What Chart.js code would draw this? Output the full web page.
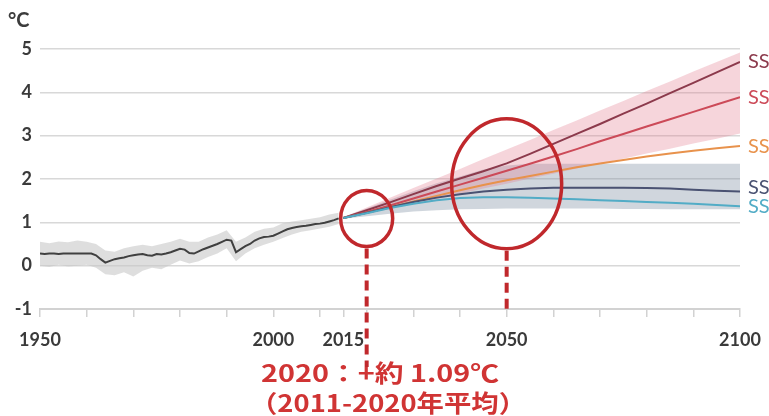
<!DOCTYPE html>
<html>
<head>
<meta charset="utf-8">
<script src="https://cdn.jsdelivr.net/npm/chart.js@4/dist/chart.umd.min.js"></script>
<style>
  html, body { margin: 0; padding: 0; background: #ffffff; }
  canvas { display: block; }
</style>
</head>
<body>
<canvas id="chart" width="769" height="416"></canvas>
<script>
// Observed global surface temperature change (°C), yearly 1950–2014
const histStart = 1950;
const histValues = [
  0.28, 0.27, 0.28, 0.28, 0.27, 0.28, 0.28, 0.28, 0.28, 0.28,
  0.28, 0.28, 0.24, 0.15, 0.07, 0.11, 0.15, 0.17, 0.19, 0.22,
  0.24, 0.26, 0.27, 0.24, 0.23, 0.27, 0.26, 0.28, 0.31, 0.35,
  0.39, 0.37, 0.29, 0.28, 0.33, 0.38, 0.42, 0.46, 0.50, 0.55,
  0.60, 0.58, 0.31, 0.38, 0.45, 0.50, 0.58, 0.63, 0.66, 0.67,
  0.69, 0.74, 0.79, 0.84, 0.87, 0.89, 0.91, 0.92, 0.94, 0.96,
  0.97, 0.99, 1.02, 1.05, 1.09
];
// Observed uncertainty range, every 2 years 1950–2014
const histBandYears = [
  1950, 1952, 1954, 1956, 1958, 1960, 1962, 1964, 1966, 1968, 1970,
  1972, 1974, 1976, 1978, 1980, 1982, 1984, 1986, 1988, 1990, 1992,
  1994, 1996, 1998, 2000, 2002, 2004, 2006, 2008, 2010, 2012, 2014
];
const histHigh = [
  0.55, 0.52, 0.56, 0.54, 0.58, 0.55, 0.50, 0.35, 0.32, 0.40, 0.45,
  0.48, 0.45, 0.50, 0.55, 0.62, 0.55, 0.55, 0.65, 0.72, 0.82, 0.55,
  0.65, 0.78, 0.85, 0.88, 0.98, 1.02, 1.05, 1.08, 1.12, 1.18, 1.22
];
const histLow = [
  0.00, -0.03, 0.02, -0.02, 0.00, 0.02, -0.05, -0.20, -0.22, -0.15, -0.25,
  -0.12, -0.05, -0.08, 0.02, 0.12, 0.05, 0.10, 0.20, 0.28, 0.40, 0.10,
  0.28, 0.40, 0.48, 0.55, 0.64, 0.72, 0.78, 0.82, 0.86, 0.90, 0.96
];

// Scenario projections, every 5 years 2015–2100
const projYears = [
  2015, 2020, 2025, 2030, 2035, 2040, 2045, 2050, 2055,
  2060, 2065, 2070, 2075, 2080, 2085, 2090, 2095, 2100
];
const ssp585 = [1.10, 1.28, 1.46, 1.65, 1.84, 2.01, 2.18, 2.36, 2.58, 2.81, 3.04, 3.27, 3.51, 3.74, 3.98, 4.22, 4.46, 4.70];
const ssp370 = [1.10, 1.24, 1.39, 1.55, 1.71, 1.87, 2.03, 2.19, 2.35, 2.52, 2.69, 2.87, 3.04, 3.21, 3.38, 3.55, 3.72, 3.89];
const ssp245 = [1.10, 1.22, 1.35, 1.48, 1.61, 1.74, 1.86, 1.97, 2.07, 2.17, 2.27, 2.36, 2.44, 2.52, 2.59, 2.65, 2.71, 2.76];
const ssp126 = [1.10, 1.22, 1.35, 1.47, 1.57, 1.65, 1.71, 1.75, 1.78, 1.80, 1.80, 1.80, 1.80, 1.79, 1.78, 1.75, 1.73, 1.71];
const ssp119 = [1.10, 1.21, 1.33, 1.43, 1.51, 1.56, 1.58, 1.58, 1.57, 1.55, 1.53, 1.51, 1.49, 1.47, 1.45, 1.43, 1.40, 1.37];

// Very likely ranges: SSP3-7.0 (red) and SSP1-2.6 (blue)
const redHigh  = [1.12, 1.34, 1.57, 1.79, 2.01, 2.23, 2.46, 2.68, 2.90, 3.13, 3.35, 3.58, 3.80, 4.03, 4.25, 4.48, 4.70, 4.92];
const redLow   = [1.08, 1.20, 1.31, 1.43, 1.54, 1.66, 1.78, 1.89, 2.01, 2.12, 2.24, 2.36, 2.47, 2.59, 2.70, 2.82, 2.93, 3.05];
const blueHigh = [1.12, 1.32, 1.52, 1.72, 1.90, 2.06, 2.22, 2.31, 2.35, 2.35, 2.35, 2.35, 2.35, 2.35, 2.35, 2.35, 2.35, 2.35];
const blueLow  = [1.08, 1.14, 1.20, 1.25, 1.28, 1.30, 1.31, 1.32, 1.32, 1.32, 1.32, 1.32, 1.31, 1.31, 1.30, 1.30, 1.30, 1.30];

const scenarioNames = ['SSP5-8.5', 'SSP3-7.0', 'SSP2-4.5', 'SSP1-2.6', 'SSP1-1.9'];
const scenarioValues = [ssp585, ssp370, ssp245, ssp126, ssp119];
const scenarioColors = ['#8c3a4c', '#cc4a58', '#e8924c', '#4a5272', '#52acc6'];

// Axis ticks
const tickYears = [1950, 1960, 1970, 1980, 1990, 2000, 2010, 2015, 2020, 2030, 2040, 2050, 2060, 2070, 2080, 2090, 2100];
const labeledYears = [1950, 2000, 2015, 2050, 2100];

// Highlighted points: year, temperature
const highlightYears = [2020, 2050];
const highlightValues = [1.09, 1.89];
const noteLines = ['2020：+約 1.09℃', '（2011-2020年平均）'];

const pts = (xs, ys) => ys.map((v, i) => ({ x: xs[i], y: v }));
const histPts = histValues.map((v, i) => ({ x: histStart + i, y: v }));

const datasets = [];
// bands (drawn underneath)
datasets.push({ data: pts(histBandYears, histLow), borderWidth: 0, pointRadius: 0, fill: false, order: 5 });
datasets.push({ data: pts(histBandYears, histHigh), borderWidth: 0, pointRadius: 0, fill: '-1', backgroundColor: 'rgba(200,200,200,0.6)', order: 5 });
datasets.push({ data: pts(projYears, blueLow), borderWidth: 0, pointRadius: 0, fill: false, order: 5 });
datasets.push({ data: pts(projYears, blueHigh), borderWidth: 0, pointRadius: 0, fill: '-1', backgroundColor: 'rgba(125,140,162,0.36)', order: 5 });
datasets.push({ data: pts(projYears, redLow), borderWidth: 0, pointRadius: 0, fill: false, order: 4 });
datasets.push({ data: pts(projYears, redHigh), borderWidth: 0, pointRadius: 0, fill: '-1', backgroundColor: 'rgba(226,125,142,0.32)', order: 4 });
// lines
datasets.push({ data: histPts, borderColor: '#404040', borderWidth: 2, pointRadius: 0, fill: false, order: 1 });
for (let i = scenarioValues.length - 1; i >= 0; i--) {
  datasets.push({ data: pts(projYears, scenarioValues[i]), borderColor: scenarioColors[i], borderWidth: 2, pointRadius: 0, fill: false, order: 1 });
}

// draw text squeezed or stretched to a given width
function fitText(ctx, text, x, y, width) {
  const w = ctx.measureText(text).width;
  ctx.save();
  ctx.translate(x, y);
  ctx.scale(width / w, 1);
  ctx.fillText(text, 0, 0);
  ctx.restore();
}

const annotate = {
  id: 'annotate',
  afterDraw(chart) {
    const ctx = chart.ctx;
    const xs = chart.scales.x, ys = chart.scales.y;

    // unit label
    ctx.save();
    ctx.fillStyle = '#3c3c3c';
    ctx.font = 'bold 20px Lato';
    ctx.textAlign = 'left';
    ctx.textBaseline = 'middle';
    ctx.fillText('°C', 8, 21);
    ctx.restore();

    // scenario names at the right end of each line
    const offsets = [0, 0, 0, -4, 0];
    ctx.save();
    ctx.font = '20px Lato';
    ctx.textAlign = 'left';
    ctx.textBaseline = 'middle';
    scenarioValues.forEach((vals, i) => {
      ctx.fillStyle = scenarioColors[i];
      ctx.fillText(scenarioNames[i], 748, ys.getPixelForValue(vals[vals.length - 1]) + offsets[i]);
    });
    ctx.restore();

    // circled highlights with dashed leaders
    const red = '#c0282c';
    const shapes = [
      { rx: 26, ry: 28, end: 367 },
      { rx: 55, ry: 65, end: 314 }
    ];
    ctx.save();
    ctx.strokeStyle = red;
    highlightYears.forEach((yr, i) => {
      const cx = xs.getPixelForValue(yr);
      const cy = ys.getPixelForValue(highlightValues[i]);
      const s = shapes[i];
      ctx.lineWidth = 3.5;
      ctx.setLineDash([]);
      ctx.beginPath();
      ctx.ellipse(cx, cy, s.rx, s.ry, 0, 0, Math.PI * 2);
      ctx.stroke();
      ctx.lineWidth = 4;
      ctx.setLineDash([10, 6]);
      ctx.beginPath();
      ctx.moveTo(cx, cy + s.ry + 2);
      ctx.lineTo(cx, s.end);
      ctx.stroke();
    });
    ctx.restore();

    // note text
    ctx.save();
    ctx.fillStyle = '#d03434';
    ctx.font = 'bold 24px "Noto Sans CJK JP"';
    ctx.textAlign = 'left';
    ctx.textBaseline = 'middle';
    fitText(ctx, noteLines[0], 261, 373, 238);
    fitText(ctx, noteLines[1], 250, 403, 276);
    ctx.restore();
  }
};

new Chart(document.getElementById('chart'), {
  type: 'line',
  data: { datasets },
  options: {
    responsive: false,
    animation: false,
    devicePixelRatio: 1,
    layout: { padding: { top: 49, right: 29, left: 0, bottom: 0 } },
    plugins: { legend: { display: false }, tooltip: { enabled: false } },
    elements: { line: { tension: 0 } },
    scales: {
      x: {
        type: 'linear',
        min: 1950,
        max: 2100,
        afterBuildTicks: (scale) => { scale.ticks = tickYears.map(v => ({ value: v })); },
        afterFit: (scale) => {
          scale.height = 107;
          scale.paddingLeft = 0;
          scale.paddingRight = 0;
        },
        ticks: {
          autoSkip: false,
          maxRotation: 0,
          padding: 12,
          color: '#3a3a3a',
          font: { family: 'Lato', size: 18, weight: 'bold' },
          callback: (v) => labeledYears.includes(v) ? String(v) : ''
        },
        grid: { drawOnChartArea: false, drawTicks: true, tickLength: 8, color: '#d2d2d2', lineWidth: 1.5 },
        border: { display: true, color: '#d2d2d2', width: 2 }
      },
      y: {
        min: -1,
        max: 5,
        afterFit: (scale) => {
          scale.width = 40;
          scale.paddingTop = 0;
          scale.paddingBottom = 0;
        },
        ticks: {
          stepSize: 1,
          padding: 8,
          color: '#3a3a3a',
          font: { family: 'Lato', size: 18, weight: 'bold' }
        },
        grid: { drawTicks: false, color: '#d8d8d8', lineWidth: 1.5 },
        border: { display: false }
      }
    }
  },
  plugins: [annotate]
});
</script>
</body>
</html>
